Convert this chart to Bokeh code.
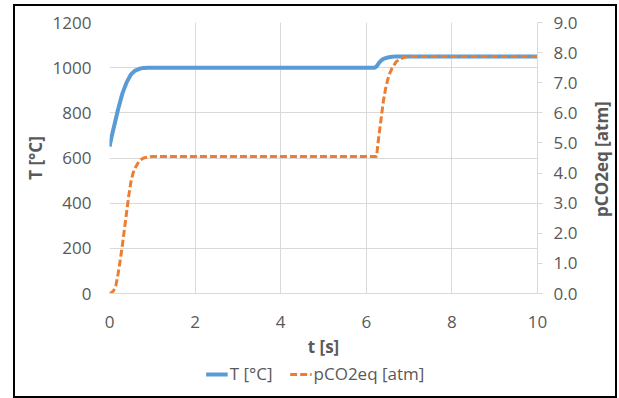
import math
from bokeh.plotting import figure
from bokeh.layouts import column, row
from bokeh.models import (Range1d, LinearAxis, FixedTicker, Legend, LegendItem,
                          NumeralTickFormatter)
from bokeh.core.properties import value
from bokeh.embed import file_html
from bokeh.resources import INLINE

# ---- data ----
t_temp = [0, 0.05, 0.1, 0.15, 0.2, 0.3, 0.4, 0.5, 0.6, 0.7, 0.8, 0.9, 1.0, 1.2,
          6.2, 6.25, 6.3, 6.35, 6.4, 6.5, 6.6, 6.7, 7.0, 10]
temp = [650, 695, 735, 775, 815, 885, 935, 970, 987, 995, 999, 1000, 1000, 1000,
        1000, 1008, 1022, 1032, 1039, 1045, 1048, 1050, 1050, 1050]

t_pco2 = [0, 0.05, 0.1, 0.15, 0.2, 0.25, 0.3, 0.35, 0.4, 0.45, 0.5, 0.55, 0.6,
          0.7, 0.8, 0.9, 1.0, 1.2, 6.24, 6.27, 6.3, 6.35, 6.4, 6.45, 6.5, 6.55,
          6.6, 6.7, 6.8, 6.9, 7.0, 10]
pco2 = [0, 0.03, 0.1, 0.27, 0.65, 1.1, 1.6, 2.15, 2.7, 3.25, 3.7, 4.0, 4.17,
        4.42, 4.5, 4.53, 4.55, 4.55, 4.55, 4.95, 5.3, 5.85, 6.4, 6.8, 7.1, 7.32,
        7.48, 7.7, 7.8, 7.85, 7.87, 7.87]

x_ticks = [0, 2, 4, 6, 8, 10]
y_ticks = [0, 200, 400, 600, 800, 1000, 1200]
y2_ticks = [0, 1, 2, 3, 4, 5, 6, 7, 8, 9]

label_series = ["T [°C]", "pCO2eq [atm]"]
x_title = "t [s]"
y_title = "T [°C]"
y2_title = "pCO2eq [atm]"

FONT = "Open Sans"
TXT = "#595959"
GRID = "#d9d9d9"
BLUE = "#5B9BD5"
ORANGE = "#ED7D31"

p = figure(width=574, height=360, x_range=Range1d(0, 10), y_range=Range1d(0, 1200),
           output_backend="svg", toolbar_location=None,
           min_border_left=94, min_border_right=52, min_border_top=16,
           min_border_bottom=73)
p.outline_line_color = None
p.background_fill_color = "white"
p.border_fill_color = "white"

p.extra_y_ranges = {"p": Range1d(0, 9)}

# grids
p.xgrid.ticker = FixedTicker(ticks=x_ticks)
p.ygrid.ticker = FixedTicker(ticks=y_ticks)
p.xgrid.grid_line_color = GRID
p.ygrid.grid_line_color = GRID

# x axis
xa = p.xaxis[0]
xa.ticker = FixedTicker(ticks=x_ticks)
xa.axis_line_color = GRID
xa.major_tick_line_color = None
xa.minor_tick_line_color = None
xa.major_tick_out = 0
xa.major_label_standoff = 22
xa.axis_label = x_title
xa.axis_label_standoff = 4

# left axis
ya = p.yaxis[0]
ya.ticker = FixedTicker(ticks=y_ticks)
ya.axis_line_color = None
ya.major_tick_line_color = None
ya.minor_tick_line_color = None
ya.major_tick_out = 0
ya.major_label_standoff = 18
ya.axis_label = y_title
ya.axis_label_standoff = 3

# right axis (its title is drawn in a narrow strip to its right)
ax2 = LinearAxis(y_range_name="p", ticker=FixedTicker(ticks=y2_ticks),
                 formatter=NumeralTickFormatter(format="0.0"))
ax2.axis_line_color = GRID
ax2.major_tick_line_color = GRID
ax2.major_tick_out = 5
ax2.major_tick_in = 0
ax2.minor_tick_line_color = None
ax2.major_label_standoff = 11
p.add_layout(ax2, "right")

for ax in (xa, ya, ax2):
    ax.major_label_text_font = FONT
    ax.major_label_text_font_size = "17px"
    ax.major_label_text_color = TXT
    ax.axis_label_text_font = FONT
    ax.axis_label_text_font_size = "17px"
    ax.axis_label_text_font_style = "bold"
    ax.axis_label_text_color = TXT

r1 = p.line(t_temp, temp, line_color=BLUE, line_width=4)
r2 = p.line(t_pco2, pco2, y_range_name="p", line_color=ORANGE, line_width=3,
            line_dash="7 3")

# right-axis title strip, sharing the chart's vertical scale
pr = figure(width=26, height=360, x_range=Range1d(0, 1), y_range=p.y_range,
            output_backend="svg", toolbar_location=None,
            min_border_left=0, min_border_right=0, min_border_top=16,
            min_border_bottom=73)
pr.axis.visible = False
pr.grid.visible = False
pr.outline_line_color = None
pr.background_fill_color = "white"
pr.border_fill_color = "white"
pr.text(x=[0.45], y=[595], text=[y2_title], angle=math.pi / 2,
        text_align="center", text_baseline="middle",
        text_font=value(FONT), text_font_size="17px", text_font_style="bold",
        text_color=TXT)

# legend strip beneath the chart (its sample lines lie outside its visible range)
pl = figure(width=600, height=34, x_range=Range1d(0, 1), y_range=Range1d(0, 1),
            output_backend="svg", toolbar_location=None,
            min_border=0, min_border_left=0, min_border_right=0,
            min_border_top=0, min_border_bottom=0,
            styles={"margin-top": "-4px"})
pl.axis.visible = False
pl.grid.visible = False
pl.outline_line_color = None
pl.background_fill_alpha = 0
pl.border_fill_alpha = 0
l1 = pl.line([5, 6], [5, 6], line_color=BLUE, line_width=4)
l2 = pl.line([5, 6], [5, 6], line_color=ORANGE, line_width=3, line_dash="7 3")
legend = Legend(items=[LegendItem(label=label_series[0], renderers=[l1]),
                       LegendItem(label=label_series[1], renderers=[l2])],
                location="top_center", orientation="horizontal",
                border_line_color=None, background_fill_alpha=0,
                padding=0, margin=0, spacing=17, label_standoff=2,
                glyph_width=22, glyph_height=20,
                label_text_font=FONT, label_text_font_size="17px",
                label_text_color=TXT)
pl.add_layout(legend)

layout = column(row(p, pr, spacing=0), pl, spacing=0,
                styles={"border": "2px solid #000000", "margin-left": "13px",
                        "margin-top": "4px", "background-color": "white"})

html = file_html(layout, INLINE)
open("out.html", "w").write(html)
